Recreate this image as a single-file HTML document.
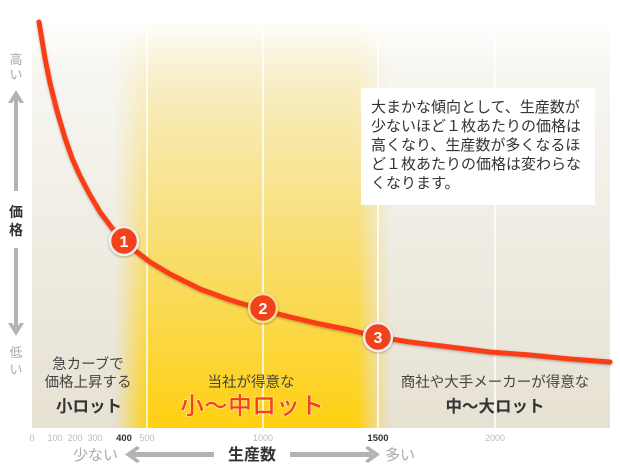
<!DOCTYPE html>
<html><head><meta charset="utf-8"><style>
body{margin:0;background:#fff;}
svg{display:block;font-family:"Liberation Sans","Noto Sans CJK JP",sans-serif;}
</style></head><body>
<svg width="620" height="470" viewBox="0 0 620 470" xmlns="http://www.w3.org/2000/svg">
<defs>
<linearGradient id="bg" x1="0" y1="0" x2="0" y2="1">
<stop offset="0" stop-color="#ffffff"/>
<stop offset="0.12" stop-color="#f7f6f1"/>
<stop offset="1" stop-color="#e6e1d2"/>
</linearGradient>
<linearGradient id="yv" x1="0" y1="0" x2="0" y2="1">
<stop offset="0" stop-color="#ffd21e" stop-opacity="0"/>
<stop offset="0.3" stop-color="#ffd83a" stop-opacity="0.4"/>
<stop offset="1" stop-color="#ffd010" stop-opacity="1"/>
</linearGradient>
<linearGradient id="yh" x1="0" y1="0" x2="1" y2="0">
<stop offset="0" stop-color="#fff" stop-opacity="0"/>
<stop offset="0.12" stop-color="#fff" stop-opacity="1"/>
<stop offset="0.88" stop-color="#fff" stop-opacity="1"/>
<stop offset="1" stop-color="#fff" stop-opacity="0"/>
</linearGradient>
<mask id="m"><rect x="115" y="0" width="275" height="430" fill="url(#yh)"/></mask>
<filter id="sh" x="-10%" y="-10%" width="120%" height="120%"><feDropShadow dx="0" dy="1" stdDeviation="1.2" flood-color="#000" flood-opacity="0.3"/></filter>
</defs>
<rect x="32" y="20" width="578" height="408" fill="url(#bg)"/>
<rect x="115" y="20" width="275" height="408" fill="url(#yv)" mask="url(#m)"/>
<g stroke="#fff" stroke-width="1.5">
<line x1="147" y1="25" x2="147" y2="428"/>
<line x1="263" y1="25" x2="263" y2="428"/>
<line x1="378" y1="25" x2="378" y2="428"/>
<line x1="495" y1="25" x2="495" y2="428"/>
</g>
<rect x="361" y="88" width="234" height="117" fill="#fff"/>
<g font-size="15" fill="#333">
<text x="371" y="112">大まかな傾向として、生産数が</text>
<text x="371" y="131">少ないほど１枚あたりの価格は</text>
<text x="371" y="150">高くなり、生産数が多くなるほ</text>
<text x="371" y="169">ど１枚あたりの価格は変わらな</text>
<text x="371" y="188">くなります。</text>
</g>
<polyline fill="none" stroke="#fa3e12" stroke-width="5" stroke-linejoin="round" stroke-linecap="round" filter="url(#sh)"
points="39,22 45,58 50,83 57,111 65,138 72,158 80,176 90,195 100,212 112,228 124,241 137,252 150,262 170,274 200,289 230,300 263,310 290,317 320,324 350,330 378,337 410,342 450,347 490,352 530,355 570,359 610,362"/>
<g font-weight="bold" font-size="16" text-anchor="middle">
<circle cx="124" cy="241" r="14" fill="#f2421a" stroke="#eee" stroke-width="2.5" filter="url(#sh)"/>
<text x="124" y="247" fill="#fff">1</text>
<circle cx="263" cy="308" r="14" fill="#f2421a" stroke="#f6e08a" stroke-width="2.5" filter="url(#sh)"/>
<text x="263" y="314" fill="#fff">2</text>
<circle cx="378" cy="337" r="14" fill="#f2421a" stroke="#eee" stroke-width="2.5" filter="url(#sh)"/>
<text x="378" y="343" fill="#fff">3</text>
</g>
<!-- y axis -->
<g fill="#aaa" font-size="13" text-anchor="middle">
<text x="16" y="64">高</text><text x="16" y="79">い</text>
<text x="16" y="357">低</text><text x="16" y="374">い</text>
</g>
<g fill="#b3b3b3">
<rect x="14" y="96" width="4" height="95"/>
<polygon points="8,103 16,90 24,103 20,103 16,97 12,103"/>
<rect x="14" y="248" width="4" height="82"/>
<polygon points="8,323 16,336 24,323 20,323 16,329 12,323"/>
</g>
<g font-size="14" font-weight="bold" fill="#333" text-anchor="middle">
<text x="16" y="217">価</text><text x="16" y="235">格</text>
</g>
<!-- region labels -->
<g text-anchor="middle" fill="#444" font-size="14.5">
<text x="88" y="369">急カーブで</text>
<text x="88" y="387">価格上昇する</text>
<text x="251" y="387">当社が得意な</text>
<text x="495" y="387">商社や大手メーカーが得意な</text>
</g>
<g text-anchor="middle" fill="#333" font-weight="bold" font-size="16.5">
<text x="89" y="412">小ロット</text>
<text x="495" y="412">中〜大ロット</text>
</g>
<text x="252" y="414" text-anchor="middle" font-size="24" font-weight="bold" fill="#f2421a" stroke="#fff3b0" stroke-width="0.6">小〜中ロット</text>
<!-- x ticks -->
<g font-size="9" fill="#bbb" text-anchor="middle">
<text x="32" y="441">0</text><text x="55" y="441">100</text><text x="75" y="441">200</text><text x="95" y="441">300</text>
<text x="147" y="441">500</text><text x="263" y="441">1000</text><text x="495" y="441">2000</text>
</g>
<g font-size="9.5" fill="#333" font-weight="bold" text-anchor="middle">
<text x="124" y="441">400</text><text x="378" y="441">1500</text>
</g>
<g font-size="15" fill="#aaa">
<text x="73" y="460">少ない</text>
<text x="385" y="460">多い</text>
</g>
<text x="252" y="460" font-size="16" font-weight="bold" fill="#333" text-anchor="middle">生産数</text>
<g fill="#b3b3b3">
<rect x="132" y="452" width="82" height="5"/>
<polygon points="125,454.5 137,446 140,448 132,454.5 140,461 137,463"/>
<rect x="290" y="452" width="82" height="5"/>
<polygon points="380,454.5 368,446 365,448 373,454.5 365,461 368,463"/>
</g>
</svg>
</body></html>
